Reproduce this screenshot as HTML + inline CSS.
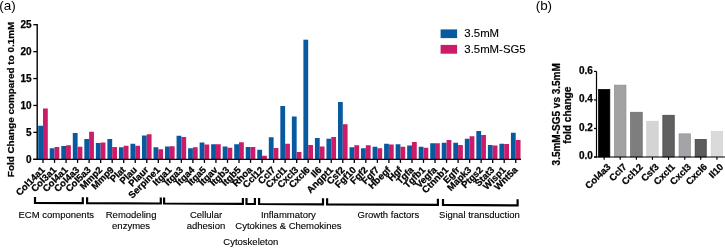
<!DOCTYPE html><html><head><meta charset="utf-8"><style>html,body{margin:0;padding:0;background:#fff;}svg{display:block;will-change:transform}text{font-family:"Liberation Sans",sans-serif}.b{stroke:#000;stroke-width:0.25px}.r{stroke:#000;stroke-width:0.12px}</style></head><body>
<svg width="725" height="248" viewBox="0 0 725 248">
<rect width="725" height="248" fill="#fff"/>
<text x="-0.7" y="9.7" font-size="13.5" fill="#000">(a)</text>
<text x="535.7" y="9.5" font-size="13.4" fill="#000">(b)</text>
<rect x="38.20" y="125.75" width="4.8" height="33.55" fill="#085aa0"/>
<rect x="43.00" y="108.50" width="4.8" height="50.80" fill="#cc1b68"/>
<rect x="49.73" y="148.25" width="4.8" height="11.05" fill="#085aa0"/>
<rect x="54.53" y="147.00" width="4.8" height="12.30" fill="#cc1b68"/>
<rect x="61.26" y="146.00" width="4.8" height="13.30" fill="#085aa0"/>
<rect x="66.06" y="145.25" width="4.8" height="14.05" fill="#cc1b68"/>
<rect x="72.79" y="133.00" width="4.8" height="26.30" fill="#085aa0"/>
<rect x="77.59" y="146.75" width="4.8" height="12.55" fill="#cc1b68"/>
<rect x="84.32" y="139.00" width="4.8" height="20.30" fill="#085aa0"/>
<rect x="89.12" y="131.75" width="4.8" height="27.55" fill="#cc1b68"/>
<rect x="95.85" y="143.00" width="4.8" height="16.30" fill="#085aa0"/>
<rect x="100.65" y="142.50" width="4.8" height="16.80" fill="#cc1b68"/>
<rect x="107.38" y="139.00" width="4.8" height="20.30" fill="#085aa0"/>
<rect x="112.18" y="147.00" width="4.8" height="12.30" fill="#cc1b68"/>
<rect x="118.91" y="147.25" width="4.8" height="12.05" fill="#085aa0"/>
<rect x="123.71" y="145.75" width="4.8" height="13.55" fill="#cc1b68"/>
<rect x="130.44" y="143.75" width="4.8" height="15.55" fill="#085aa0"/>
<rect x="135.24" y="145.75" width="4.8" height="13.55" fill="#cc1b68"/>
<rect x="141.97" y="135.50" width="4.8" height="23.80" fill="#085aa0"/>
<rect x="146.77" y="134.25" width="4.8" height="25.05" fill="#cc1b68"/>
<rect x="153.50" y="147.25" width="4.8" height="12.05" fill="#085aa0"/>
<rect x="158.30" y="149.25" width="4.8" height="10.05" fill="#cc1b68"/>
<rect x="165.03" y="146.50" width="4.8" height="12.80" fill="#085aa0"/>
<rect x="169.83" y="146.25" width="4.8" height="13.05" fill="#cc1b68"/>
<rect x="176.56" y="135.75" width="4.8" height="23.55" fill="#085aa0"/>
<rect x="181.36" y="137.00" width="4.8" height="22.30" fill="#cc1b68"/>
<rect x="188.09" y="148.25" width="4.8" height="11.05" fill="#085aa0"/>
<rect x="192.89" y="147.25" width="4.8" height="12.05" fill="#cc1b68"/>
<rect x="199.62" y="142.50" width="4.8" height="16.80" fill="#085aa0"/>
<rect x="204.42" y="144.50" width="4.8" height="14.80" fill="#cc1b68"/>
<rect x="211.15" y="144.25" width="4.8" height="15.05" fill="#085aa0"/>
<rect x="215.95" y="144.25" width="4.8" height="15.05" fill="#cc1b68"/>
<rect x="222.68" y="146.50" width="4.8" height="12.80" fill="#085aa0"/>
<rect x="227.48" y="147.75" width="4.8" height="11.55" fill="#cc1b68"/>
<rect x="234.21" y="144.25" width="4.8" height="15.05" fill="#085aa0"/>
<rect x="239.01" y="142.25" width="4.8" height="17.05" fill="#cc1b68"/>
<rect x="245.74" y="147.00" width="4.8" height="12.30" fill="#085aa0"/>
<rect x="250.54" y="147.00" width="4.8" height="12.30" fill="#cc1b68"/>
<rect x="257.27" y="149.75" width="4.8" height="9.55" fill="#085aa0"/>
<rect x="262.07" y="155.75" width="4.8" height="3.55" fill="#cc1b68"/>
<rect x="268.80" y="137.25" width="4.8" height="22.05" fill="#085aa0"/>
<rect x="273.60" y="148.00" width="4.8" height="11.30" fill="#cc1b68"/>
<rect x="280.33" y="106.00" width="4.8" height="53.30" fill="#085aa0"/>
<rect x="285.13" y="143.75" width="4.8" height="15.55" fill="#cc1b68"/>
<rect x="291.86" y="116.50" width="4.8" height="42.80" fill="#085aa0"/>
<rect x="296.66" y="152.00" width="4.8" height="7.30" fill="#cc1b68"/>
<rect x="303.39" y="39.70" width="4.8" height="119.60" fill="#085aa0"/>
<rect x="308.19" y="145.00" width="4.8" height="14.30" fill="#cc1b68"/>
<rect x="314.92" y="138.00" width="4.8" height="21.30" fill="#085aa0"/>
<rect x="319.72" y="146.50" width="4.8" height="12.80" fill="#cc1b68"/>
<rect x="326.45" y="138.75" width="4.8" height="20.55" fill="#085aa0"/>
<rect x="331.25" y="137.00" width="4.8" height="22.30" fill="#cc1b68"/>
<rect x="337.98" y="102.00" width="4.8" height="57.30" fill="#085aa0"/>
<rect x="342.78" y="124.25" width="4.8" height="35.05" fill="#cc1b68"/>
<rect x="349.51" y="147.25" width="4.8" height="12.05" fill="#085aa0"/>
<rect x="354.31" y="145.25" width="4.8" height="14.05" fill="#cc1b68"/>
<rect x="361.04" y="148.25" width="4.8" height="11.05" fill="#085aa0"/>
<rect x="365.84" y="145.25" width="4.8" height="14.05" fill="#cc1b68"/>
<rect x="372.57" y="146.75" width="4.8" height="12.55" fill="#085aa0"/>
<rect x="377.37" y="148.25" width="4.8" height="11.05" fill="#cc1b68"/>
<rect x="384.10" y="143.75" width="4.8" height="15.55" fill="#085aa0"/>
<rect x="388.90" y="144.50" width="4.8" height="14.80" fill="#cc1b68"/>
<rect x="395.63" y="144.25" width="4.8" height="15.05" fill="#085aa0"/>
<rect x="400.43" y="146.75" width="4.8" height="12.55" fill="#cc1b68"/>
<rect x="407.16" y="145.50" width="4.8" height="13.80" fill="#085aa0"/>
<rect x="411.96" y="142.00" width="4.8" height="17.30" fill="#cc1b68"/>
<rect x="418.69" y="146.75" width="4.8" height="12.55" fill="#085aa0"/>
<rect x="423.49" y="147.75" width="4.8" height="11.55" fill="#cc1b68"/>
<rect x="430.22" y="143.25" width="4.8" height="16.05" fill="#085aa0"/>
<rect x="435.02" y="143.25" width="4.8" height="16.05" fill="#cc1b68"/>
<rect x="441.75" y="142.75" width="4.8" height="16.55" fill="#085aa0"/>
<rect x="446.55" y="140.00" width="4.8" height="19.30" fill="#cc1b68"/>
<rect x="453.28" y="142.75" width="4.8" height="16.55" fill="#085aa0"/>
<rect x="458.08" y="145.00" width="4.8" height="14.30" fill="#cc1b68"/>
<rect x="464.81" y="138.75" width="4.8" height="20.55" fill="#085aa0"/>
<rect x="469.61" y="136.25" width="4.8" height="23.05" fill="#cc1b68"/>
<rect x="476.34" y="131.00" width="4.8" height="28.30" fill="#085aa0"/>
<rect x="481.14" y="135.00" width="4.8" height="24.30" fill="#cc1b68"/>
<rect x="487.87" y="145.00" width="4.8" height="14.30" fill="#085aa0"/>
<rect x="492.67" y="145.50" width="4.8" height="13.80" fill="#cc1b68"/>
<rect x="499.40" y="143.75" width="4.8" height="15.55" fill="#085aa0"/>
<rect x="504.20" y="144.00" width="4.8" height="15.30" fill="#cc1b68"/>
<rect x="510.93" y="132.75" width="4.8" height="26.55" fill="#085aa0"/>
<rect x="515.73" y="140.00" width="4.8" height="19.30" fill="#cc1b68"/>
<line x1="37.2" y1="24.1" x2="37.2" y2="159.9" stroke="#000" stroke-width="1.4"/>
<line x1="33.3" y1="159.3" x2="521" y2="159.3" stroke="#000" stroke-width="1.3"/>
<line x1="33.3" y1="159.30" x2="37.1" y2="159.30" stroke="#000" stroke-width="1.3"/>
<text x="31.5" y="162.90" font-size="10" font-weight="bold" class="b" text-anchor="end" fill="#000">0</text>
<line x1="33.3" y1="132.38" x2="37.1" y2="132.38" stroke="#000" stroke-width="1.3"/>
<text x="31.5" y="135.98" font-size="10" font-weight="bold" class="b" text-anchor="end" fill="#000">5</text>
<line x1="33.3" y1="105.46" x2="37.1" y2="105.46" stroke="#000" stroke-width="1.3"/>
<text x="31.5" y="109.06" font-size="10" font-weight="bold" class="b" text-anchor="end" fill="#000">10</text>
<line x1="33.3" y1="78.54" x2="37.1" y2="78.54" stroke="#000" stroke-width="1.3"/>
<text x="31.5" y="82.14" font-size="10" font-weight="bold" class="b" text-anchor="end" fill="#000">15</text>
<line x1="33.3" y1="51.62" x2="37.1" y2="51.62" stroke="#000" stroke-width="1.3"/>
<text x="31.5" y="55.22" font-size="10" font-weight="bold" class="b" text-anchor="end" fill="#000">20</text>
<line x1="33.3" y1="24.70" x2="37.1" y2="24.70" stroke="#000" stroke-width="1.3"/>
<text x="31.5" y="28.30" font-size="10" font-weight="bold" class="b" text-anchor="end" fill="#000">25</text>
<line x1="43.00" y1="159.3" x2="43.00" y2="162.9" stroke="#000" stroke-width="1.3"/>
<text transform="translate(45.40,170.50) rotate(-45)" font-size="9.5" font-weight="bold" class="b" text-anchor="end" fill="#000">Col14a1</text>
<line x1="54.53" y1="159.3" x2="54.53" y2="162.9" stroke="#000" stroke-width="1.3"/>
<text transform="translate(56.93,170.50) rotate(-45)" font-size="9.5" font-weight="bold" class="b" text-anchor="end" fill="#000">Col3a1</text>
<line x1="66.06" y1="159.3" x2="66.06" y2="162.9" stroke="#000" stroke-width="1.3"/>
<text transform="translate(68.46,170.50) rotate(-45)" font-size="9.5" font-weight="bold" class="b" text-anchor="end" fill="#000">Col4a1</text>
<line x1="77.59" y1="159.3" x2="77.59" y2="162.9" stroke="#000" stroke-width="1.3"/>
<text transform="translate(79.99,170.50) rotate(-45)" font-size="9.5" font-weight="bold" class="b" text-anchor="end" fill="#000">Col4a3</text>
<line x1="89.12" y1="159.3" x2="89.12" y2="162.9" stroke="#000" stroke-width="1.3"/>
<text transform="translate(91.52,170.50) rotate(-45)" font-size="9.5" font-weight="bold" class="b" text-anchor="end" fill="#000">Col5a3</text>
<line x1="100.65" y1="159.3" x2="100.65" y2="162.9" stroke="#000" stroke-width="1.3"/>
<text transform="translate(103.05,170.50) rotate(-45)" font-size="9.5" font-weight="bold" class="b" text-anchor="end" fill="#000">Mmp2</text>
<line x1="112.18" y1="159.3" x2="112.18" y2="162.9" stroke="#000" stroke-width="1.3"/>
<text transform="translate(114.58,170.50) rotate(-45)" font-size="9.5" font-weight="bold" class="b" text-anchor="end" fill="#000">Mmp9</text>
<line x1="123.71" y1="159.3" x2="123.71" y2="162.9" stroke="#000" stroke-width="1.3"/>
<text transform="translate(126.11,170.50) rotate(-45)" font-size="9.5" font-weight="bold" class="b" text-anchor="end" fill="#000">Plat</text>
<line x1="135.24" y1="159.3" x2="135.24" y2="162.9" stroke="#000" stroke-width="1.3"/>
<text transform="translate(137.64,170.50) rotate(-45)" font-size="9.5" font-weight="bold" class="b" text-anchor="end" fill="#000">Plau</text>
<line x1="146.77" y1="159.3" x2="146.77" y2="162.9" stroke="#000" stroke-width="1.3"/>
<text transform="translate(149.17,170.50) rotate(-45)" font-size="9.5" font-weight="bold" class="b" text-anchor="end" fill="#000">Plaur</text>
<line x1="158.30" y1="159.3" x2="158.30" y2="162.9" stroke="#000" stroke-width="1.3"/>
<text transform="translate(160.70,170.50) rotate(-45)" font-size="9.5" font-weight="bold" class="b" text-anchor="end" fill="#000">Serpine1</text>
<line x1="169.83" y1="159.3" x2="169.83" y2="162.9" stroke="#000" stroke-width="1.3"/>
<text transform="translate(172.23,170.50) rotate(-45)" font-size="9.5" font-weight="bold" class="b" text-anchor="end" fill="#000">Itga1</text>
<line x1="181.36" y1="159.3" x2="181.36" y2="162.9" stroke="#000" stroke-width="1.3"/>
<text transform="translate(183.76,170.50) rotate(-45)" font-size="9.5" font-weight="bold" class="b" text-anchor="end" fill="#000">Itga3</text>
<line x1="192.89" y1="159.3" x2="192.89" y2="162.9" stroke="#000" stroke-width="1.3"/>
<text transform="translate(195.29,170.50) rotate(-45)" font-size="9.5" font-weight="bold" class="b" text-anchor="end" fill="#000">Itga4</text>
<line x1="204.42" y1="159.3" x2="204.42" y2="162.9" stroke="#000" stroke-width="1.3"/>
<text transform="translate(206.82,170.50) rotate(-45)" font-size="9.5" font-weight="bold" class="b" text-anchor="end" fill="#000">Itga5</text>
<line x1="215.95" y1="159.3" x2="215.95" y2="162.9" stroke="#000" stroke-width="1.3"/>
<text transform="translate(218.35,170.50) rotate(-45)" font-size="9.5" font-weight="bold" class="b" text-anchor="end" fill="#000">Itgav</text>
<line x1="227.48" y1="159.3" x2="227.48" y2="162.9" stroke="#000" stroke-width="1.3"/>
<text transform="translate(229.88,170.50) rotate(-45)" font-size="9.5" font-weight="bold" class="b" text-anchor="end" fill="#000">Itgb3</text>
<line x1="239.01" y1="159.3" x2="239.01" y2="162.9" stroke="#000" stroke-width="1.3"/>
<text transform="translate(241.41,170.50) rotate(-45)" font-size="9.5" font-weight="bold" class="b" text-anchor="end" fill="#000">Itgb5</text>
<line x1="250.54" y1="159.3" x2="250.54" y2="162.9" stroke="#000" stroke-width="1.3"/>
<text transform="translate(252.94,170.50) rotate(-45)" font-size="9.5" font-weight="bold" class="b" text-anchor="end" fill="#000">Rhoa</text>
<line x1="262.07" y1="159.3" x2="262.07" y2="162.9" stroke="#000" stroke-width="1.3"/>
<text transform="translate(264.47,170.50) rotate(-45)" font-size="9.5" font-weight="bold" class="b" text-anchor="end" fill="#000">Ccl12</text>
<line x1="273.60" y1="159.3" x2="273.60" y2="162.9" stroke="#000" stroke-width="1.3"/>
<text transform="translate(276.00,170.50) rotate(-45)" font-size="9.5" font-weight="bold" class="b" text-anchor="end" fill="#000">Ccl7</text>
<line x1="285.13" y1="159.3" x2="285.13" y2="162.9" stroke="#000" stroke-width="1.3"/>
<text transform="translate(287.53,170.50) rotate(-45)" font-size="9.5" font-weight="bold" class="b" text-anchor="end" fill="#000">Cxcl1</text>
<line x1="296.66" y1="159.3" x2="296.66" y2="162.9" stroke="#000" stroke-width="1.3"/>
<text transform="translate(299.06,170.50) rotate(-45)" font-size="9.5" font-weight="bold" class="b" text-anchor="end" fill="#000">Cxcl3</text>
<line x1="308.19" y1="159.3" x2="308.19" y2="162.9" stroke="#000" stroke-width="1.3"/>
<text transform="translate(310.59,170.50) rotate(-45)" font-size="9.5" font-weight="bold" class="b" text-anchor="end" fill="#000">Cxcl6</text>
<line x1="319.72" y1="159.3" x2="319.72" y2="162.9" stroke="#000" stroke-width="1.3"/>
<text transform="translate(322.12,170.50) rotate(-45)" font-size="9.5" font-weight="bold" class="b" text-anchor="end" fill="#000">Il6</text>
<line x1="331.25" y1="159.3" x2="331.25" y2="162.9" stroke="#000" stroke-width="1.3"/>
<text transform="translate(333.65,170.50) rotate(-45)" font-size="9.5" font-weight="bold" class="b" text-anchor="end" fill="#000">Angpt1</text>
<line x1="342.78" y1="159.3" x2="342.78" y2="162.9" stroke="#000" stroke-width="1.3"/>
<text transform="translate(345.18,170.50) rotate(-45)" font-size="9.5" font-weight="bold" class="b" text-anchor="end" fill="#000">Csf2</text>
<line x1="354.31" y1="159.3" x2="354.31" y2="162.9" stroke="#000" stroke-width="1.3"/>
<text transform="translate(356.71,170.50) rotate(-45)" font-size="9.5" font-weight="bold" class="b" text-anchor="end" fill="#000">Fgf10</text>
<line x1="365.84" y1="159.3" x2="365.84" y2="162.9" stroke="#000" stroke-width="1.3"/>
<text transform="translate(368.24,170.50) rotate(-45)" font-size="9.5" font-weight="bold" class="b" text-anchor="end" fill="#000">Fgf2</text>
<line x1="377.37" y1="159.3" x2="377.37" y2="162.9" stroke="#000" stroke-width="1.3"/>
<text transform="translate(379.77,170.50) rotate(-45)" font-size="9.5" font-weight="bold" class="b" text-anchor="end" fill="#000">Fgf7</text>
<line x1="388.90" y1="159.3" x2="388.90" y2="162.9" stroke="#000" stroke-width="1.3"/>
<text transform="translate(391.30,170.50) rotate(-45)" font-size="9.5" font-weight="bold" class="b" text-anchor="end" fill="#000">Hbegf</text>
<line x1="400.43" y1="159.3" x2="400.43" y2="162.9" stroke="#000" stroke-width="1.3"/>
<text transform="translate(402.83,170.50) rotate(-45)" font-size="9.5" font-weight="bold" class="b" text-anchor="end" fill="#000">Hgf</text>
<line x1="411.96" y1="159.3" x2="411.96" y2="162.9" stroke="#000" stroke-width="1.3"/>
<text transform="translate(414.36,170.50) rotate(-45)" font-size="9.5" font-weight="bold" class="b" text-anchor="end" fill="#000">Tgfa</text>
<line x1="423.49" y1="159.3" x2="423.49" y2="162.9" stroke="#000" stroke-width="1.3"/>
<text transform="translate(425.89,170.50) rotate(-45)" font-size="9.5" font-weight="bold" class="b" text-anchor="end" fill="#000">Tgfb1</text>
<line x1="435.02" y1="159.3" x2="435.02" y2="162.9" stroke="#000" stroke-width="1.3"/>
<text transform="translate(437.42,170.50) rotate(-45)" font-size="9.5" font-weight="bold" class="b" text-anchor="end" fill="#000">Vegfa</text>
<line x1="446.55" y1="159.3" x2="446.55" y2="162.9" stroke="#000" stroke-width="1.3"/>
<text transform="translate(448.95,170.50) rotate(-45)" font-size="9.5" font-weight="bold" class="b" text-anchor="end" fill="#000">Ctnnb1</text>
<line x1="458.08" y1="159.3" x2="458.08" y2="162.9" stroke="#000" stroke-width="1.3"/>
<text transform="translate(460.48,170.50) rotate(-45)" font-size="9.5" font-weight="bold" class="b" text-anchor="end" fill="#000">Egfr</text>
<line x1="469.61" y1="159.3" x2="469.61" y2="162.9" stroke="#000" stroke-width="1.3"/>
<text transform="translate(472.01,170.50) rotate(-45)" font-size="9.5" font-weight="bold" class="b" text-anchor="end" fill="#000">Mapk3</text>
<line x1="481.14" y1="159.3" x2="481.14" y2="162.9" stroke="#000" stroke-width="1.3"/>
<text transform="translate(483.54,170.50) rotate(-45)" font-size="9.5" font-weight="bold" class="b" text-anchor="end" fill="#000">Ptgs2</text>
<line x1="492.67" y1="159.3" x2="492.67" y2="162.9" stroke="#000" stroke-width="1.3"/>
<text transform="translate(495.07,170.50) rotate(-45)" font-size="9.5" font-weight="bold" class="b" text-anchor="end" fill="#000">Stat3</text>
<line x1="504.20" y1="159.3" x2="504.20" y2="162.9" stroke="#000" stroke-width="1.3"/>
<text transform="translate(506.60,170.50) rotate(-45)" font-size="9.5" font-weight="bold" class="b" text-anchor="end" fill="#000">Wisp1</text>
<line x1="515.73" y1="159.3" x2="515.73" y2="162.9" stroke="#000" stroke-width="1.3"/>
<text transform="translate(518.13,170.50) rotate(-45)" font-size="9.5" font-weight="bold" class="b" text-anchor="end" fill="#000">Wnt5a</text>
<text transform="translate(13.6,99.5) rotate(-90)" font-size="9.9" font-weight="bold" class="b" text-anchor="middle" fill="#000">Fold Change compared to 0.1mM</text>
<rect x="440.6" y="29.4" width="16.5" height="8.7" fill="#085aa0"/>
<rect x="440.6" y="44.9" width="16.5" height="8.8" fill="#cc1b68"/>
<text x="464.3" y="37.2" font-size="11.4" fill="#000" class="r">3.5mM</text>
<text x="464.3" y="52.7" font-size="11.4" fill="#000" class="r">3.5mM-SG5</text>
<path d="M35.0 196.90 L35.0 202.87 L82.8 203.12 L82.8 197.13" fill="none" stroke="#000" stroke-width="2.2"/>
<path d="M87.1 197.16 L87.1 203.14 L160.8 203.51 L160.8 197.52" fill="none" stroke="#000" stroke-width="2.2"/>
<path d="M164.1 197.53 L164.1 203.53 L242.9 203.93 L242.9 197.92" fill="none" stroke="#000" stroke-width="2.2"/>
<path d="M246.5 197.94 L246.5 203.95 L254.9 203.99 L254.9 197.98" fill="none" stroke="#000" stroke-width="2.2"/>
<path d="M259.1 198.00 L259.1 204.02 L323.0 204.34 L323.0 198.31" fill="none" stroke="#000" stroke-width="2.2"/>
<path d="M327.1 198.33 L327.1 204.36 L437.9 204.93 L437.9 198.87" fill="none" stroke="#000" stroke-width="2.2"/>
<path d="M443.0 198.90 L443.0 204.95 L517.6 205.33 L517.6 199.26" fill="none" stroke="#000" stroke-width="2.2"/>
<text x="56.3" y="218.4" font-size="9.5" text-anchor="middle" fill="#000" class="r">ECM components</text>
<text x="131.1" y="218.4" font-size="9.5" text-anchor="middle" fill="#000" class="r">Remodeling</text>
<text x="131.1" y="229.4" font-size="9.5" text-anchor="middle" fill="#000" class="r">enzymes</text>
<text x="206" y="218.4" font-size="9.5" text-anchor="middle" fill="#000" class="r">Cellular</text>
<text x="206" y="229.4" font-size="9.5" text-anchor="middle" fill="#000" class="r">adhesion</text>
<text x="288.4" y="218.4" font-size="9.5" text-anchor="middle" fill="#000" class="r">Inflammatory</text>
<text x="288.4" y="229.4" font-size="9.5" text-anchor="middle" fill="#000" class="r">Cytokines &amp; Chemokines</text>
<text x="250.8" y="244.6" font-size="9.5" text-anchor="middle" fill="#000" class="r">Cytoskeleton</text>
<text x="388.4" y="218.4" font-size="9.5" text-anchor="middle" fill="#000" class="r">Growth factors</text>
<text x="479.5" y="218.4" font-size="9.5" text-anchor="middle" fill="#000" class="r">Signal transduction</text>
<rect x="598.45" y="89.35" width="11.40" height="67.65" fill="#000000" stroke="#000000" stroke-width="0.7"/>
<rect x="614.45" y="85.14999999999999" width="11.50" height="71.85" fill="#a2a2a4" stroke="#8c8c8c" stroke-width="0.7"/>
<rect x="630.5500000000001" y="112.25" width="11.70" height="44.75" fill="#7e7e7e" stroke="#6a6a6a" stroke-width="0.7"/>
<rect x="646.75" y="121.25" width="11.40" height="35.75" fill="#d4d4d4" stroke="#cccccc" stroke-width="0.7"/>
<rect x="662.85" y="115.25" width="11.40" height="41.75" fill="#606060" stroke="#404040" stroke-width="0.7"/>
<rect x="679.0500000000001" y="133.85" width="11.40" height="23.15" fill="#a4a4a8" stroke="#909094" stroke-width="0.7"/>
<rect x="695.15" y="139.45" width="11.10" height="17.55" fill="#5c5c5c" stroke="#383838" stroke-width="0.7"/>
<rect x="711.25" y="131.35" width="11.40" height="25.65" fill="#dadada" stroke="#d0d0d0" stroke-width="0.7"/>
<line x1="596.5" y1="71.4" x2="596.5" y2="157.6" stroke="#000" stroke-width="1.2"/>
<line x1="594" y1="157.0" x2="725" y2="157.0" stroke="#000" stroke-width="1.2"/>
<line x1="594" y1="157.00" x2="596.5" y2="157.00" stroke="#000" stroke-width="1.2"/>
<text x="592.9" y="159.20" font-size="10" font-weight="bold" class="b" text-anchor="end" fill="#000">0.0</text>
<line x1="594" y1="128.47" x2="596.5" y2="128.47" stroke="#000" stroke-width="1.2"/>
<text x="592.9" y="130.67" font-size="10" font-weight="bold" class="b" text-anchor="end" fill="#000">0.2</text>
<line x1="594" y1="99.93" x2="596.5" y2="99.93" stroke="#000" stroke-width="1.2"/>
<text x="592.9" y="102.13" font-size="10" font-weight="bold" class="b" text-anchor="end" fill="#000">0.4</text>
<line x1="594" y1="71.40" x2="596.5" y2="71.40" stroke="#000" stroke-width="1.2"/>
<text x="592.9" y="73.60" font-size="10" font-weight="bold" class="b" text-anchor="end" fill="#000">0.6</text>
<line x1="604.15" y1="157.0" x2="604.15" y2="159.8" stroke="#000" stroke-width="1.2"/>
<text transform="translate(611.15,167.50) rotate(-45)" font-size="9.5" font-weight="bold" class="b" text-anchor="end" fill="#000">Col4a3</text>
<line x1="620.20" y1="157.0" x2="620.20" y2="159.8" stroke="#000" stroke-width="1.2"/>
<text transform="translate(627.20,167.50) rotate(-45)" font-size="9.5" font-weight="bold" class="b" text-anchor="end" fill="#000">Ccl7</text>
<line x1="636.40" y1="157.0" x2="636.40" y2="159.8" stroke="#000" stroke-width="1.2"/>
<text transform="translate(643.40,167.50) rotate(-45)" font-size="9.5" font-weight="bold" class="b" text-anchor="end" fill="#000">Ccl12</text>
<line x1="652.45" y1="157.0" x2="652.45" y2="159.8" stroke="#000" stroke-width="1.2"/>
<text transform="translate(659.45,167.50) rotate(-45)" font-size="9.5" font-weight="bold" class="b" text-anchor="end" fill="#000">Csf3</text>
<line x1="668.55" y1="157.0" x2="668.55" y2="159.8" stroke="#000" stroke-width="1.2"/>
<text transform="translate(675.55,167.50) rotate(-45)" font-size="9.5" font-weight="bold" class="b" text-anchor="end" fill="#000">Cxcl1</text>
<line x1="684.75" y1="157.0" x2="684.75" y2="159.8" stroke="#000" stroke-width="1.2"/>
<text transform="translate(691.75,167.50) rotate(-45)" font-size="9.5" font-weight="bold" class="b" text-anchor="end" fill="#000">Cxcl3</text>
<line x1="700.70" y1="157.0" x2="700.70" y2="159.8" stroke="#000" stroke-width="1.2"/>
<text transform="translate(707.70,167.50) rotate(-45)" font-size="9.5" font-weight="bold" class="b" text-anchor="end" fill="#000">Cxcl6</text>
<line x1="716.95" y1="157.0" x2="716.95" y2="159.8" stroke="#000" stroke-width="1.2"/>
<text transform="translate(723.95,167.50) rotate(-45)" font-size="9.5" font-weight="bold" class="b" text-anchor="end" fill="#000">Il10</text>
<text transform="translate(559.7,114.3) rotate(-90)" font-size="10" font-weight="bold" class="b" text-anchor="middle" fill="#000">3.5mM-SG5 vs 3.5mM</text>
<text transform="translate(571.2,115.1) rotate(-90)" font-size="10.2" font-weight="bold" class="b" text-anchor="middle" fill="#000">fold change</text>
</svg></body></html>
